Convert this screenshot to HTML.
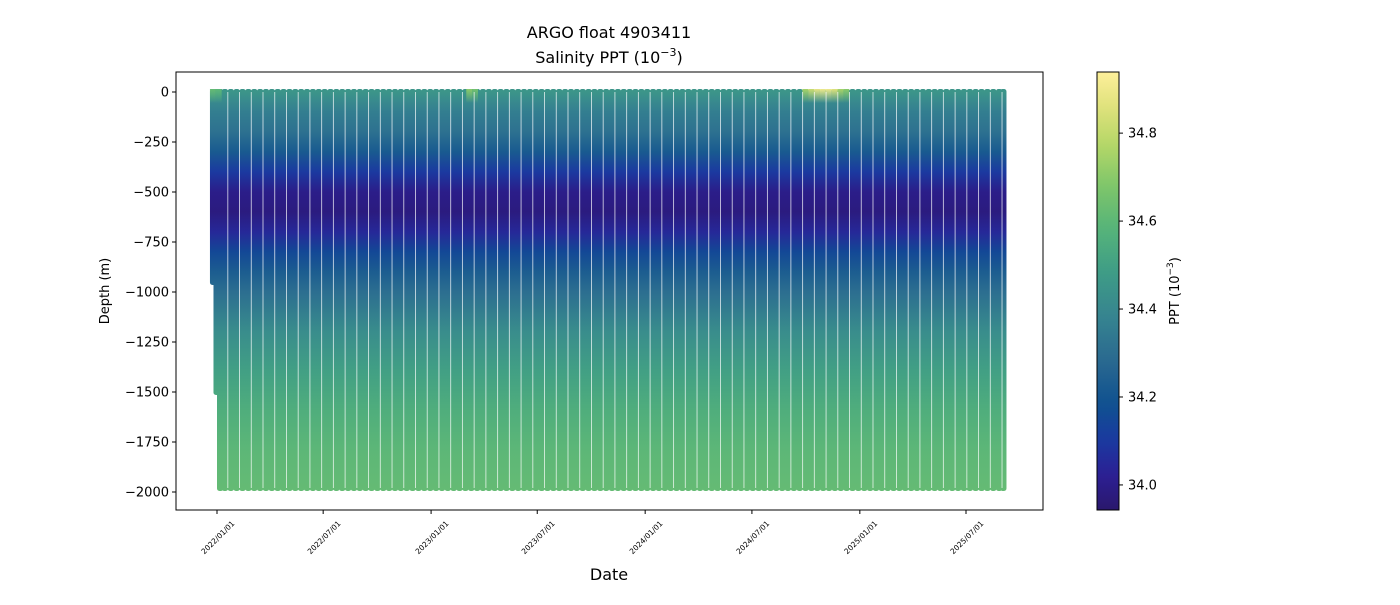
<!DOCTYPE html>
<html><head><meta charset="utf-8"><style>
body{margin:0;background:#fff;}
svg text{font-family:"DejaVu Sans","Liberation Sans",sans-serif;fill:#000;}
</style></head><body>
<svg id="chart" width="1400" height="600" xmlns="http://www.w3.org/2000/svg">
<defs id="defs"></defs>
<g id="plot"></g>
</svg>
<script>
// ---- data ----
const profileDays = [-7,-1,5,13,23,33,43,53,63,73,83,93,103,113,123,133,143,153,163,173,183,193,203,213,223,233,243,253,263,273,283,293,303,313,323,333,343,353,363,373,383,393,403,413,423,433,443,453,463,473,483,493,503,513,523,533,543,553,563,573,583,593,603,613,623,633,643,653,663,673,683,693,703,713,723,733,743,753,763,773,783,793,803,813,823,833,843,853,863,873,883,893,903,913,923,933,943,953,963,973,983,993,1003,1013,1023,1033,1043,1053,1063,1073,1083,1093,1103,1113,1123,1133,1143,1153,1163,1173,1183,1193,1203,1213,1223,1233,1243,1253,1263,1273,1283,1293,1303,1313,1323,1333,1340];
const profileMaxDepth = [-950,-1500]; // first profiles; rest default
const defaultMaxDepth = -1980;
const depthLevels = [0,-50,-100,-200,-300,-400,-500,-600,-700,-800,-900,-1000,-1200,-1400,-1600,-1800,-2000];
const salinityLevels = [34.45,34.40,34.36,34.31,34.22,34.10,34.00,33.98,34.05,34.15,34.23,34.30,34.42,34.50,34.56,34.60,34.62];
const surfaceDays = [-7,3,430,440,1003,1013,1023,1033,1043,1053,1063,1073];
const surfaceSal = [34.62,34.60,34.70,34.65,34.75,34.82,34.88,34.90,34.90,34.86,34.75,34.70];
const yTicks = [0,-250,-500,-750,-1000,-1250,-1500,-1750,-2000];
const xTickDays = [0,181,365,546,730,912,1096,1277];
const xTickLabels = ["2022/01/01","2022/07/01","2023/01/01","2023/07/01","2024/01/01","2024/07/01","2025/01/01","2025/07/01"];
const cbTicks = [34.0,34.2,34.4,34.6,34.8];

// ---- scales ----
const PX0=176,PX1=1043,PY0=72,PY1=510;
const xS=d=>217+d*(966-217)/1277;
const yS=v=>92+(0-v)*0.2;
const CB0=1097,CB1=1119,cbMin=33.943,cbMax=34.939;
const cbY=s=>510-(s-cbMin)/(cbMax-cbMin)*438;
const cmap=[[0,[42,24,108]],[0.08,[44,31,148]],[0.16,[26,58,160]],[0.24,[15,81,144]],[0.34,[42,105,144]],[0.44,[54,132,144]],[0.54,[62,156,134]],[0.64,[85,179,122]],[0.74,[126,198,106]],[0.84,[184,216,104]],[0.92,[223,226,124]],[1,[253,239,154]]];
function col(s){let t=(s-cbMin)/(cbMax-cbMin);t=Math.max(0,Math.min(1,t));
 for(let i=1;i<cmap.length;i++){if(t<=cmap[i][0]){const a=cmap[i-1],b=cmap[i],f=(t-a[0])/(b[0]-a[0]);
 return 'rgb('+a[1].map((c,k)=>Math.round(c+(b[1][k]-c)*f)).join(',')+')';}}return 'rgb(253,239,154)';}
const NS='http://www.w3.org/2000/svg';
const svg=document.getElementById('chart'),defs=document.getElementById('defs'),plot=document.getElementById('plot');
function mk(tag,attrs,parent){const e=document.createElementNS(NS,tag);for(const k in attrs)e.setAttribute(k,attrs[k]);(parent||svg).appendChild(e);return e;}

const pg=mk('linearGradient',{id:'pg',gradientUnits:'userSpaceOnUse',x1:0,x2:0,y1:yS(0),y2:yS(-2000)},defs);
depthLevels.forEach((d,i)=>mk('stop',{offset:(-d/2000),'stop-color':col(salinityLevels[i])},pg));
const cg=mk('linearGradient',{id:'cg',x1:0,x2:0,y1:1,y2:0},defs);
for(let i=0;i<=40;i++){const s=cbMin+(cbMax-cbMin)*i/40;mk('stop',{offset:i/40,'stop-color':col(s)},cg);}

mk('rect',{x:PX0,y:PY0,width:PX1-PX0,height:PY1-PY0,fill:'#fff'},plot);
const w=10*(966-217)/1277;
profileDays.forEach((d,i)=>{
 const md=i<profileMaxDepth.length?profileMaxDepth[i]:defaultMaxDepth;
 const x=xS(d)-w/2;
 const r=mk('rect',{x:x,y:yS(0)-3,width:w+0.6,height:yS(md)-yS(0)+6,rx:2.5,fill:'url(#pg)'},plot);
 
 
});
surfaceDays.forEach((d,i)=>{
 const gid='sg'+i;const g=mk('linearGradient',{id:gid,x1:0,x2:0,y1:0,y2:1},defs);
 mk('stop',{offset:0,'stop-color':col(surfaceSal[i]),'stop-opacity':1},g);
 mk('stop',{offset:1,'stop-color':col(surfaceSal[i]),'stop-opacity':0},g);
 const r=mk('rect',{x:xS(d)-w/2,y:yS(0)-3,width:w,height:14,fill:'url(#'+gid+')'},plot);
 
 
});
profileDays.forEach((d,i)=>{if(i%2===1&&i>1){const md=defaultMaxDepth;
 mk('rect',{x:xS(d)+w/2-0.2,y:yS(0),width:0.9,height:yS(md)-yS(0),fill:'#fff',opacity:0.75},plot);}});
mk('rect',{x:PX0,y:PY0,width:PX1-PX0,height:PY1-PY0,fill:'none',stroke:'#000','stroke-width':1},plot);

yTicks.forEach(v=>{const y=yS(v);mk('line',{x1:PX0-4,x2:PX0,y1:y,y2:y,stroke:'#000'});
 const t=mk('text',{x:PX0-7,y:y+4.5,'text-anchor':'end','font-size':13});t.textContent=v===0?'0':'\u2212'+(-v);
 });
xTickDays.forEach((d,i)=>{const x=xS(d);mk('line',{x1:x,x2:x,y1:PY1,y2:PY1+4,stroke:'#000'});
 const ax=x+18,ay=PY1+14;
 const t=mk('text',{x:ax,y:ay,'text-anchor':'end','font-size':7.5,transform:'rotate(-45 '+ax+' '+ay+')'});t.textContent=xTickLabels[i];
 });
const cb=mk('rect',{x:CB0,y:PY0,width:CB1-CB0,height:PY1-PY0,fill:'url(#cg)',stroke:'#000','stroke-width':1});

cbTicks.forEach(s=>{const y=cbY(s);mk('line',{x1:CB1,x2:CB1+4,y1:y,y2:y,stroke:'#000'});
 const t=mk('text',{x:CB1+9,y:y+4.5,'font-size':13});t.textContent=s.toFixed(1);
 });
</script>
<svg style="position:absolute;left:0;top:0" width="1400" height="600" xmlns="http://www.w3.org/2000/svg">
<text x="609" y="38" text-anchor="middle" font-size="16">ARGO float 4903411</text>
<text x="609" y="63" text-anchor="middle" font-size="16">Salinity PPT (10<tspan dy="-7" font-size="11">−3</tspan><tspan dy="7">)</tspan></text>
<text x="609" y="580" text-anchor="middle" font-size="16">Date</text>
<text x="109" y="291" text-anchor="middle" font-size="13" transform="rotate(-90 109 291)">Depth (m)</text>
<text x="1179" y="291" text-anchor="middle" font-size="13" transform="rotate(-90 1179 291)">PPT (10<tspan dy="-6" font-size="9">−3</tspan><tspan dy="6">)</tspan></text>
</svg>
</body></html>
